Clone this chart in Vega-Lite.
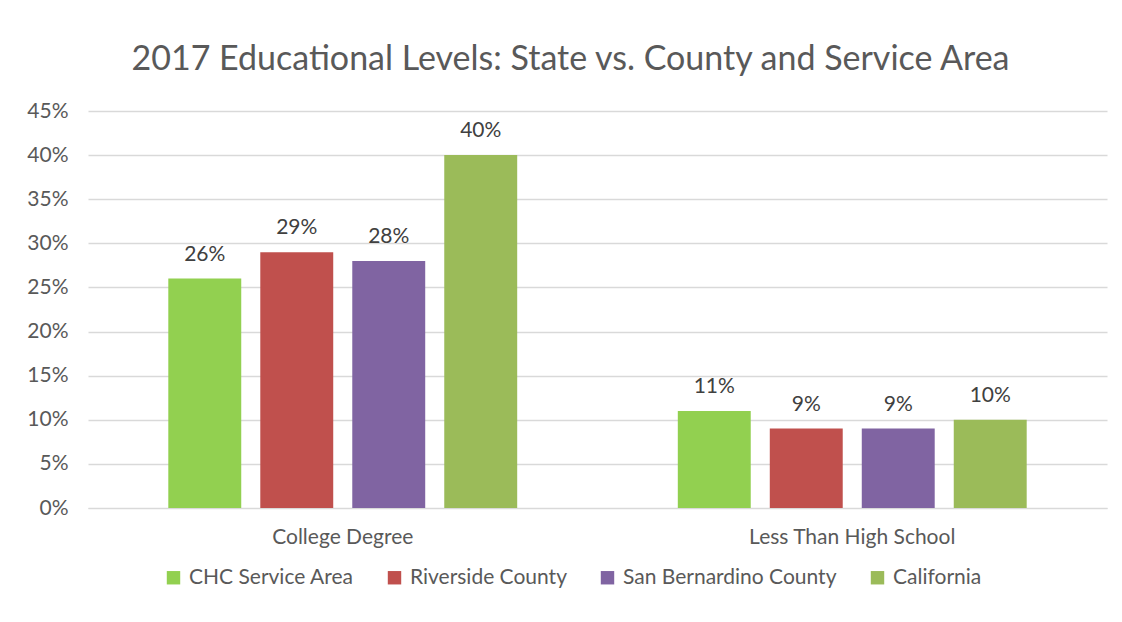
{
  "$schema": "https://vega.github.io/schema/vega-lite/v6.json",
  "autosize": {"type": "none"},
  "width": 1019,
  "height": 397,
  "padding": {"left": 88, "top": 111, "right": 15, "bottom": 114},
  "background": "white",
  "title": {
    "text": "2017 Educational Levels: State vs. County and Service Area",
    "anchor": "middle",
    "offset": 23,
    "dx": -27,
    "fontSize": 34,
    "font": "Lato",
    "fontWeight": "normal",
    "color": "#595959"
  },
  "data": {
    "values": [
      {"category": "College Degree", "area": "CHC Service Area", "value": 0.26},
      {"category": "College Degree", "area": "Riverside County", "value": 0.29},
      {"category": "College Degree", "area": "San Bernardino County", "value": 0.28},
      {"category": "College Degree", "area": "California", "value": 0.40},
      {"category": "Less Than High School", "area": "CHC Service Area", "value": 0.11},
      {"category": "Less Than High School", "area": "Riverside County", "value": 0.09},
      {"category": "Less Than High School", "area": "San Bernardino County", "value": 0.09},
      {"category": "Less Than High School", "area": "California", "value": 0.10}
    ]
  },
  "encoding": {
    "x": {
      "field": "category",
      "type": "nominal",
      "sort": ["College Degree", "Less Than High School"],
      "scale": {"paddingInner": 0, "paddingOuter": 0},
      "axis": {
        "title": null,
        "labelAngle": 0,
        "labelFontSize": 21,
        "labelFont": "Lato",
        "labelColor": "#595959",
        "labelPadding": 18,
        "labelLimit": 400,
        "ticks": false,
        "domain": true,
        "domainColor": "#d9d9d9",
        "domainWidth": 1
      }
    },
    "xOffset": {
      "field": "area",
      "type": "nominal",
      "sort": ["CHC Service Area", "Riverside County", "San Bernardino County", "California"],
      "scale": {"paddingInner": 0.207, "paddingOuter": 0.873}
    },
    "y": {
      "field": "value",
      "type": "quantitative",
      "scale": {"domain": [0, 0.45]},
      "axis": {
        "title": null,
        "format": ".0%",
        "values": [0, 0.05, 0.1, 0.15, 0.2, 0.25, 0.3, 0.35, 0.4, 0.45],
        "labelFontSize": 21,
        "labelFont": "Lato",
        "labelColor": "#595959",
        "labelPadding": 20,
        "ticks": false,
        "domain": false,
        "grid": true,
        "gridColor": "#d9d9d9",
        "gridWidth": 1.5
      }
    }
  },
  "layer": [
    {
      "mark": {"type": "bar"},
      "encoding": {
        "color": {
          "field": "area",
          "type": "nominal",
          "sort": ["CHC Service Area", "Riverside County", "San Bernardino County", "California"],
          "scale": {
            "domain": ["CHC Service Area", "Riverside County", "San Bernardino County", "California"],
            "range": ["#92D050", "#C0504D", "#8064A2", "#9BBB59"]
          },
          "legend": {
            "title": null,
            "orient": "none",
            "direction": "horizontal",
            "legendX": 75,
            "legendY": 456,
            "symbolType": "square",
            "symbolSize": 180,
            "symbolStrokeWidth": 0,
            "labelFontSize": 21,
            "labelFont": "Lato",
            "labelColor": "#595959",
            "labelOffset": 5,
            "labelLimit": 400,
            "columnPadding": 30
          }
        }
      }
    },
    {
      "mark": {"type": "text", "baseline": "bottom", "dy": -14, "fontSize": 21, "font": "Lato", "color": "#404040"},
      "encoding": {
        "text": {"field": "value", "type": "quantitative", "format": ".0%"}
      }
    }
  ],
  "config": {"view": {"stroke": null}}
}
